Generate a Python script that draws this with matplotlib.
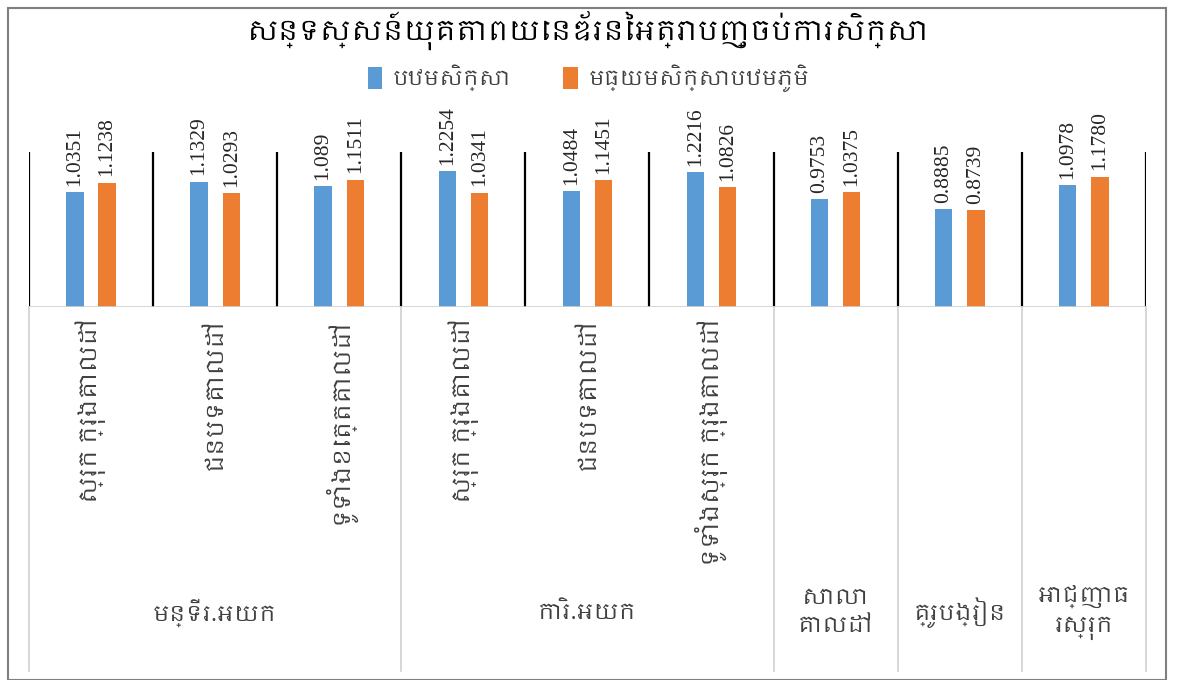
import matplotlib
matplotlib.use("Agg")
import matplotlib.pyplot as plt
from matplotlib import font_manager
from matplotlib.patches import Rectangle

# Data
categories = ["ស្រុក ក្រុងគោលដៅ", "ជនបទគោលដៅ", "ទូទាំងខេត្តគោលដៅ",
              "ស្រុក ក្រុងគោលដៅ", "ជនបទគោលដៅ", "ទូទាំងស្រុក ក្រុងគោលដៅ",
              "", "", ""]
groups = ["មន្ទីរ.អយក", "ការិ.អយក", "សាលា\nគោលដៅ", "គ្រូបង្រៀន", "អាជ្ញាធ\nរស្រុក"]
group_spans = [(0, 2), (3, 5), (6, 6), (7, 7), (8, 8)]
primary = [1.0351, 1.1329, 1.089, 1.2254, 1.0484, 1.2216, 0.9753, 0.8885, 1.0978]
lower_sec = [1.1238, 1.0293, 1.1511, 1.0341, 1.1451, 1.0826, 1.0375, 0.8739, 1.1780]
primary_txt = ["1.0351", "1.1329", "1.089", "1.2254", "1.0484", "1.2216", "0.9753", "0.8885", "1.0978"]
lower_txt = ["1.1238", "1.0293", "1.1511", "1.0341", "1.1451", "1.0826", "1.0375", "0.8739", "1.1780"]
series_names = ["បឋមសិក្សា", "មធ្យមសិក្សាបឋមភូមិ"]
title = "សន្ទស្សន៍យុគតាពយេនឌ័រនៃអត្រាបញ្ចប់ការសិក្សា"

# look for a font that can show Khmer, else fall back
khmer = [f.name for f in font_manager.fontManager.ttflist if "khmer" in f.name.lower()]
fam = (khmer[:1] + ["DejaVu Sans"])
plt.rcParams["font.family"] = fam

blue = "#5B9BD5"
orange = "#ED7D31"

fig = plt.figure(figsize=(11.77, 6.8), dpi=100)
ax = fig.add_axes([0.0246, 0.5485, 0.949, 0.228])

x = list(range(len(primary)))
w = 0.14
off = 0.13
ax.bar([i - off for i in x], primary, width=w, color=blue, label=series_names[0])
ax.bar([i + off for i in x], lower_sec, width=w, color=orange, label=series_names[1])

for i in x:
    ax.text(i - off, primary[i] + 0.055, primary_txt[i], rotation=90, ha="center", va="bottom",
            family="Liberation Serif", fontsize=15.5, color="#262626")
    ax.text(i + off, lower_sec[i] + 0.055, lower_txt[i], rotation=90, ha="center", va="bottom",
            family="Liberation Serif", fontsize=15.5, color="#262626")

ax.set_xlim(-0.5, len(x) - 0.5)
ax.set_ylim(0, 1.40)
for k in range(len(x) + 1):
    ax.axvline(k - 0.5, color="black", lw=1.6)
ax.axhline(0, color="#d0d0d0", lw=1.2)
for s in ax.spines.values():
    s.set_visible(False)
ax.set_xticks([])
ax.set_yticks([])

tr = ax.get_xaxis_transform()
# category labels (rotated)
for i, c in enumerate(categories):
    if c:
        ax.text(i, -0.07, c, rotation=90, ha="center", va="top", transform=tr,
                fontsize=17, color="#404040")
# group labels and separators
for g, (a, b) in zip(groups, group_spans):
    ax.text((a + b) / 2, -1.97, g, ha="center", va="center", transform=tr,
            fontsize=16, color="#404040", linespacing=1.5)
for a, b in group_spans:
    ax.plot([a - 0.5, a - 0.5], [0, -2.35], color="#d0d0d0", lw=1.2, transform=tr, clip_on=False)
ax.plot([len(x) - 0.5, len(x) - 0.5], [0, -2.35], color="#d0d0d0", lw=1.2, transform=tr, clip_on=False)

fig.text(0.5, 0.955, title, ha="center", va="center", fontsize=20, fontweight="bold", color="black")
ax.legend(loc="center", bbox_to_anchor=(0.5, 0.885), bbox_transform=fig.transFigure, ncol=2,
          frameon=False, fontsize=15, handlelength=0.7, handleheight=1.2, columnspacing=2.5,
          handletextpad=0.5, labelcolor="#404040")

fig.patches.append(Rectangle((0.007, 0.0), 0.984, 0.988, transform=fig.transFigure,
                             fill=False, edgecolor="#7f7f7f", lw=1.5))

fig.savefig("out.png", dpi=100)
